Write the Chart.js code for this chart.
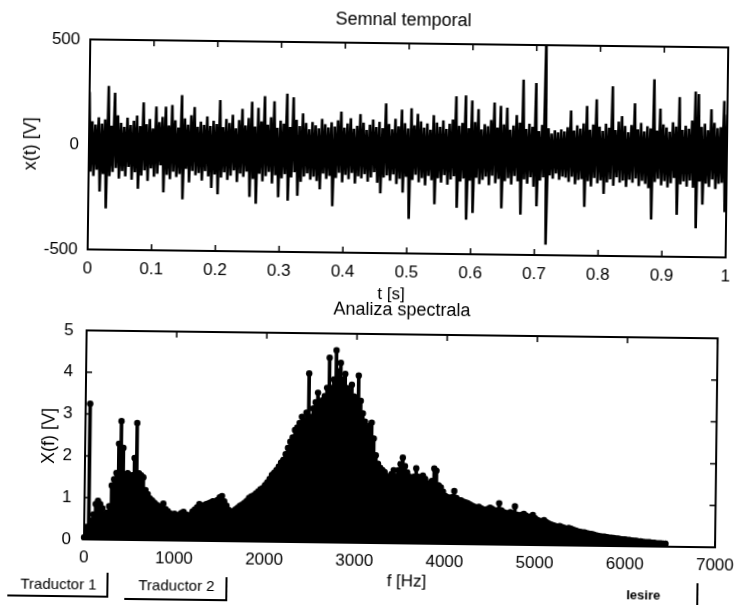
<!DOCTYPE html>
<html>
<head>
<meta charset="utf-8">
<script src="https://cdn.jsdelivr.net/npm/chart.js@4.4.1/dist/chart.umd.min.js"></script>
<style>
  html, body { margin: 0; padding: 0; background: #fff; overflow: hidden; }
  #fig { position: absolute; left: 0; top: 0; width: 745px; height: 607px; background: #fff;
         transform: rotate(0.72deg); transform-origin: 372px 303px; }
  canvas { position: absolute; left: 0; }
  #cTime { top: 0; }
  #cSpec { top: 296px; }
  .btn { position: absolute; font: 15px "Liberation Sans", Arial, sans-serif; line-height: 18px; color: #000; white-space: nowrap; }
  .rule { position: absolute; background: #000; }
</style>
</head>
<body>
<div id="fig">
  <canvas id="cTime" width="745" height="312"></canvas>
  <canvas id="cSpec" width="745" height="311"></canvas>

  <div class="btn" style="left:24px; top:579px;">Traductor 1</div>
  <div class="rule" style="left:110px; top:576px; width:2px; height:24px;"></div>
  <div class="rule" style="left:11px; top:599px; width:101px; height:2px;"></div>

  <div class="btn" style="left:142px; top:579px;">Traductor 2</div>
  <div class="rule" style="left:229px; top:579px; width:2px; height:23px;"></div>
  <div class="rule" style="left:128px; top:601px; width:103px; height:2px;"></div>

  <div class="btn" style="left:630px; top:584px; font-size:13px; font-weight:bold; line-height:16px;">Iesire</div>
  <div class="rule" style="left:700px; top:579px; width:2px; height:22px;"></div>
</div>

<script>
// ---- time signal: sampled every 2.5 ms over 0..1 s ----
const timeStep = 0.0025;
const timeValues = [
  250,-130,110,-150,95,-120,130,-224,100,-140,120,-304,280,-150,90,-130,248,-110,140,-160,
  105,-125,85,-150,130,-105,95,-165,115,-130,140,-208,90,-145,203,-120,100,-170,125,-110,
  80,-150,184,-135,110,-95,135,-224,184,-140,95,-160,193,-125,120,-150,85,-135,240,-256,
  130,-110,100,-175,145,-120,184,-140,90,-130,115,-165,100,-120,140,-145,95,-200,120,-135,
  105,-230,219,-150,90,-125,130,-160,110,-140,150,-115,85,-170,125,-130,178,-145,100,-120,
  135,-240,213,-155,95,-272,184,-130,120,-165,240,-140,105,-120,140,-175,216,-135,90,-240,
  125,-150,110,-130,253,-256,95,-145,237,-120,130,-232,100,-165,160,-140,115,-125,85,-155,
  120,-140,105,-160,90,-200,135,-125,110,-150,95,-135,120,-280,100,-145,130,-120,171,-165,
  95,-130,115,-150,140,-120,90,-170,105,-135,160,-145,120,-125,85,-160,110,-140,135,-115,
  100,-165,125,-215,95,-140,213,-130,115,-155,90,-125,140,-170,105,-145,184,-210,120,-135,
  95,-336,192,-150,110,-125,165,-160,130,-140,100,-175,120,-130,90,-150,160,-264,125,-140,
  105,-160,135,-125,95,-170,120,-145,140,-130,251,-280,110,-155,125,-140,256,-336,100,-150,
  232,-304,130,-135,192,-165,95,-145,120,-130,110,-170,140,-125,224,-160,105,-140,208,-280,
  120,-150,200,-135,95,-165,115,-125,165,-150,130,-308,335,-140,100,-160,125,-130,110,-175,
  319,-268,90,-145,120,-130,560,-450,105,-120,80,-135,95,-110,85,-140,100,-125,90,-130,
  110,-150,190,-125,95,-160,120,-140,105,-135,130,-268,213,-145,100,-170,125,-130,245,-155,
  115,-140,95,-205,130,-150,110,-135,308,-165,100,-125,140,-150,166,-140,120,-170,90,-135,
  125,-150,229,-130,105,-165,135,-140,95,-155,120,-175,110,-324,344,-145,100,-130,205,-160,
  130,-140,115,-170,95,-150,140,-125,120,-300,261,-155,105,-140,125,-165,110,-135,150,-170,
  288,-363,276,-140,120,-250,135,-150,105,-165,205,-130,140,-175,115,-150,120,-145,245,-284,
  180
];
const timeTicksX = [0, 0.1, 0.2, 0.3, 0.4, 0.5, 0.6, 0.7, 0.8, 0.9, 1];
const timeTicksY = [-500, 0, 500];

// ---- amplitude spectrum: one line every 25 Hz from 0 to 6450 Hz ----
const freqStep = 25;
const spectrumValues = [
  0.05,0.3,3.25,0.45,0.6,0.85,0.93,0.85,0.75,0.6,
  0.65,0.8,1.3,1.45,1.6,2.3,2.84,2.2,1.55,1.6,
  1.5,1.55,1.96,2.8,1.6,1.55,1.5,1.2,1.1,1.0,
  0.95,0.9,0.85,0.8,0.82,0.88,0.75,0.7,0.65,0.62,
  0.64,0.58,0.62,0.66,0.69,0.63,0.6,0.62,0.7,0.75,
  0.8,0.88,0.82,0.85,0.88,0.9,0.92,0.95,0.9,0.98,
  1.05,1.08,0.95,0.85,0.75,0.7,0.72,0.76,0.8,0.85,
  0.88,0.92,0.97,1.04,1.08,1.1,1.15,1.2,1.25,1.28,
  1.35,1.42,1.5,1.6,1.65,1.72,1.8,1.9,1.96,2.1,
  2.25,2.4,2.5,2.68,2.74,2.85,3.0,2.9,3.1,4.04,
  3.0,3.2,3.35,3.58,3.3,3.4,3.5,3.7,4.42,3.7,
  3.9,4.6,4.1,4.3,3.9,4.04,3.7,3.6,3.78,3.5,
  3.44,4.0,3.4,3.1,2.9,2.74,2.8,2.88,2.5,2.1,
  1.9,1.8,1.75,1.7,1.6,1.55,1.65,1.75,1.6,1.75,
  1.9,2.05,1.85,1.7,1.6,1.55,1.6,1.8,1.6,1.5,
  1.63,1.55,1.45,1.4,1.5,1.8,1.75,1.4,1.35,1.25,
  1.15,1.12,1.1,1.12,1.27,1.1,1.05,1.05,1.02,1.0,
  0.98,0.95,0.92,0.9,0.88,0.9,0.86,0.84,0.82,0.85,
  0.88,0.85,0.8,0.82,0.99,0.82,0.78,0.76,0.74,0.78,
  0.75,0.92,0.72,0.7,0.72,0.74,0.7,0.66,0.68,0.72,
  0.64,0.6,0.58,0.56,0.6,0.55,0.52,0.5,0.48,0.46,
  0.45,0.46,0.44,0.42,0.4,0.42,0.4,0.38,0.36,0.34,
  0.33,0.32,0.32,0.3,0.29,0.28,0.27,0.25,0.24,0.23,
  0.22,0.22,0.21,0.2,0.2,0.19,0.18,0.18,0.17,0.16,
  0.16,0.15,0.15,0.14,0.13,0.13,0.12,0.12,0.11,0.1,
  0.1,0.1,0.09,0.09,0.08,0.08,0.08,0.07,0.07
];
const specTicksX = [0, 1000, 2000, 3000, 4000, 5000, 6000, 7000];
const specTicksY = [0, 1, 2, 3, 4, 5];

const FONT = '"Liberation Sans", Arial, sans-serif';

// Boxed axes with inward tick marks on all four sides, plus titles and axis names
const framePlugin = {
  id: 'frame',
  afterDatasetsDraw(chart, args, opts) {
    const { ctx, chartArea: a, scales } = chart;
    ctx.save();
    ctx.strokeStyle = '#000';
    ctx.lineWidth = 2;
    ctx.strokeRect(a.left, a.top, a.width, a.height);
    ctx.lineWidth = 1.5;
    const L = 6;
    ctx.beginPath();
    scales.x.ticks.forEach(t => {
      const x = scales.x.getPixelForValue(t.value);
      ctx.moveTo(x, a.bottom); ctx.lineTo(x, a.bottom - L);
      ctx.moveTo(x, a.top); ctx.lineTo(x, a.top + L);
    });
    scales.y.ticks.forEach(t => {
      const y = scales.y.getPixelForValue(t.value);
      ctx.moveTo(a.left, y); ctx.lineTo(a.left + L, y);
      ctx.moveTo(a.right, y); ctx.lineTo(a.right - L, y);
    });
    ctx.stroke();
    ctx.fillStyle = '#000';
    ctx.textAlign = 'center';
    ctx.textBaseline = 'middle';
    (opts.labels || []).forEach(l => {
      ctx.save();
      ctx.font = (l.size || 18) + 'px ' + FONT;
      ctx.translate(l.x, l.y);
      if (l.rot) ctx.rotate(l.rot);
      ctx.fillText(l.text, 0, 0);
      ctx.restore();
    });
    ctx.restore();
  }
};

function axisX(min, max, ticks, height, pad, fmt) {
  return {
    type: 'linear', min, max, offset: false,
    afterBuildTicks: s => { s.ticks = ticks.map(v => ({ value: v })); },
    afterFit: s => { s.height = height; },
    grid: { display: false, drawTicks: false }, border: { display: false },
    ticks: { padding: pad, maxRotation: 0, autoSkip: false, color: '#000',
             font: { family: FONT, size: 17 }, callback: fmt }
  };
}
function axisY(min, max, ticks, pad) {
  return {
    type: 'linear', min, max,
    afterBuildTicks: s => { s.ticks = ticks.map(v => ({ value: v })); },
    afterFit: s => { s.width = 87; },
    grid: { display: false, drawTicks: false }, border: { display: false },
    ticks: { padding: pad, color: '#000', font: { family: FONT, size: 17 },
             callback: v => String(v) }
  };
}

// ---- upper plot: time signal ----
new Chart(document.getElementById('cTime'), {
  type: 'line',
  data: {
    datasets: [{
      data: timeValues.map((v, i) => ({ x: i * timeStep, y: v })),
      borderColor: '#000', borderWidth: 2.6, pointRadius: 0, tension: 0,
      borderJoinStyle: 'miter', borderCapStyle: 'butt'
    }]
  },
  options: {
    responsive: false, animation: false, devicePixelRatio: 1,
    layout: { padding: { top: 43, right: 20, left: 0, bottom: 0 } },
    plugins: {
      legend: { display: false }, tooltip: { enabled: false },
      frame: { labels: [
        { text: 'Semnal temporal', x: 400, y: 20, size: 18 },
        { text: 'x(t) [V]', x: 29, y: 148, rot: -Math.PI / 2, size: 18 },
        { text: 't [s]', x: 391, y: 294, size: 17 }
      ] }
    },
    scales: {
      x: axisX(0, 1, timeTicksX, 312 - 253, 9, v => (v === 0 || v === 1) ? String(v) : v.toFixed(1)),
      y: axisY(-500, 500, timeTicksY, 10)
    }
  },
  plugins: [framePlugin]
});

// ---- lower plot: amplitude spectrum drawn as stems ----
const specPoints = spectrumValues.map((v, i) => ({ x: i * freqStep, y: v }));
new Chart(document.getElementById('cSpec'), {
  type: 'bar',
  data: {
    datasets: [
      { type: 'bar', data: specPoints, backgroundColor: '#000', borderWidth: 0,
        barThickness: 3, grouped: false, order: 2 },
      { type: 'line', data: specPoints, showLine: false, pointRadius: 3.2,
        pointBackgroundColor: '#000', pointBorderColor: '#000', pointBorderWidth: 0,
        clip: false, order: 1 }
    ]
  },
  options: {
    responsive: false, animation: false, devicePixelRatio: 1,
    layout: { padding: { top: 38, right: 20, left: 0, bottom: 0 } },
    plugins: {
      legend: { display: false }, tooltip: { enabled: false },
      frame: { labels: [
        { text: 'Analiza spectrala', x: 402, y: 14, size: 18 },
        { text: 'X(f) [V]', x: 51, y: 144, rot: -Math.PI / 2, size: 18 },
        { text: 'f [Hz]', x: 410, y: 285, size: 17 }
      ] }
    },
    scales: {
      x: axisX(0, 7000, specTicksX, 311 - 247, 8, v => String(v)),
      y: axisY(0, 5, specTicksY, 13)
    }
  },
  plugins: [framePlugin]
});
</script>
</body>
</html>
